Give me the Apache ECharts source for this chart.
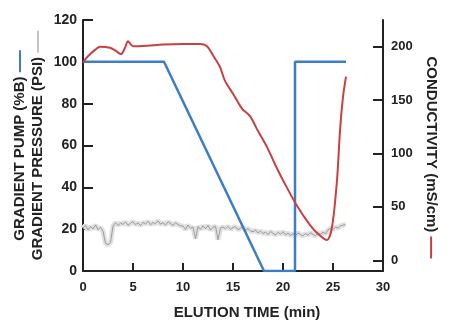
<!DOCTYPE html>
<html>
<head>
<meta charset="utf-8">
<script src="https://cdn.jsdelivr.net/npm/echarts@6/dist/echarts.min.js"></script>
<style>
  html, body { margin: 0; padding: 0; background: #fff; }
  #chart { width: 452px; height: 333px; }
</style>
</head>
<body>
<div id="chart"></div>
<script>
// gradient pump (%B), left axis
const pumpTime = [0, 8.1, 18.1, 21.2, 21.2, 26.3];
const pumpValue = [100, 100, 0, 0, 100, 100];

// conductivity (mS/cm), right axis
const condTime = [0, 0.3, 0.7, 1.2, 1.7, 2.7, 3.3, 3.8, 4.2, 4.5, 5.0, 6.4, 8.0, 10.0, 11.7, 12.4, 13.0, 13.7, 14.2, 15.0, 15.9, 16.7, 17.5, 18.4, 19.2, 20.0, 21.4, 22.7, 23.6, 24.4, 24.9, 25.4, 25.7, 26.0, 26.3];
const condValue = [185, 189, 193, 197, 200, 199, 196, 193, 199, 205, 200.5, 201, 202, 202.5, 202.5, 200.5, 192, 181, 168, 156, 142, 135, 121, 106, 90, 75, 51, 33, 24, 19, 31, 75, 121, 153, 172];

// gradient pressure (PSI), left axis, sampled every 0.25 min from 0
const pressStep = 0.25;
const pressValue = [
  20.5, 21.8, 19.6, 21.2, 20.1, 22.0, 19.8, 20.9,
  19.0, 13.2, 12.6, 13.6,
  21.5, 23.1, 21.8, 22.9, 22.3, 23.4, 21.9, 22.8, 23.6, 22.2, 23.0, 21.7, 23.3, 22.5,
  23.8, 22.1, 23.2, 22.6, 24.0, 22.4, 23.1, 22.0, 23.5, 22.7, 21.9, 23.0, 22.2, 21.6,
  21.5, 19.8, 22.0, 20.4, 21.0, 15.5, 21.3, 19.9, 21.6, 20.2, 21.8, 19.6, 20.9, 21.4, 15.0, 20.6,
  21.0, 20.2, 21.4, 19.9, 20.8, 21.2, 19.7, 20.5, 21.0, 19.6, 20.3, 19.2,
  18.8, 19.6, 18.2, 19.1, 17.9, 18.6, 17.4, 18.9, 18.0, 17.2, 18.5, 17.6, 18.8, 17.3, 18.1, 17.0,
  17.8, 16.9, 18.2, 17.4, 16.8, 17.9, 17.1, 18.3, 17.5, 16.9, 18.0, 17.6,
  18.5, 17.8, 19.6, 20.4, 19.8, 21.0, 20.5, 21.6, 21.9, 22.4
];

const leftTicks = { min: 0, max: 120, interval: 20 };
const rightTicks = [0, 50, 100, 150, 200];
const xTicks = { min: 0, max: 30, interval: 5 };

const pumpData = pumpTime.map((t, i) => [t, pumpValue[i]]);
const condData = condTime.map((t, i) => [t, condValue[i]]);
const pressData = pressValue.map((v, i) => [i * pressStep, v]);

const font = "Liberation Sans";
const ink = "#222";

const chart = echarts.init(document.getElementById("chart"));

const option = {
    animation: false,
    grid: { left: 83, right: 69, top: 20, bottom: 62 },
    xAxis: {
        type: "value",
        min: xTicks.min,
        max: xTicks.max,
        interval: xTicks.interval,
        name: "ELUTION TIME (min)",
        nameLocation: "middle",
        nameGap: 34,
        nameTextStyle: { fontFamily: font, fontWeight: "bold", fontSize: 15, color: ink, padding: [0, 0, 0, 28] },
        axisLine: { lineStyle: { color: ink, width: 2 } },
        axisTick: { inside: true, length: 8, lineStyle: { color: ink, width: 2 } },
        axisLabel: { fontFamily: font, fontWeight: "bold", fontSize: 13, color: ink, margin: 10 },
        splitLine: { show: false }
    },
    yAxis: [
        {
            type: "value",
            min: leftTicks.min,
            max: leftTicks.max,
            interval: leftTicks.interval,
            position: "left",
            name: "GRADIENT PUMP (%B) {blue|}\nGRADIENT PRESSURE (PSI) {gray|}",
            nameLocation: "middle",
            nameRotate: 90,
            nameGap: 36,
            nameMoveOverlap: false,
            nameTextStyle: {
                fontFamily: font, fontWeight: "bold", fontSize: 15, color: ink, lineHeight: 18,
                rich: {
                    blue: { width: 22, height: 2, backgroundColor: "#3d7cc9" },
                    gray: { width: 22, height: 2, backgroundColor: "#c4c4c4" }
                }
            },
            axisLine: { show: true, lineStyle: { color: ink, width: 2 } },
            axisTick: { inside: true, length: 10, lineStyle: { color: ink, width: 2 } },
            axisLabel: { fontFamily: font, fontWeight: "bold", fontSize: 14, color: ink, margin: 6 },
            splitLine: { show: false }
        },
        {
            type: "value",
            min: -10,
            max: 225,
            position: "right",
            name: "CONDUCTIVITY (mS/cm) {red|}",
            nameLocation: "middle",
            nameRotate: -90,
            nameGap: 38,
            nameTextStyle: {
                fontFamily: font, fontWeight: "bold", fontSize: 15, color: ink, padding: [0, 0, 0, 24],
                rich: { red: { width: 22, height: 2, backgroundColor: "#c8403f" } }
            },
            axisLine: { show: true, lineStyle: { color: ink, width: 2 } },
            axisTick: { inside: true, length: 10, customValues: rightTicks, lineStyle: { color: ink, width: 2 } },
            axisLabel: { fontFamily: font, fontWeight: "bold", fontSize: 13, color: ink, margin: 8, customValues: rightTicks },
            splitLine: { show: false }
        }
    ],
    series: [
        {
            name: "pressure band",
            type: "line",
            data: pressData,
            yAxisIndex: 0,
            symbol: "none",
            lineStyle: { color: "#e0e0e0", width: 5 },
            z: 1
        },
        {
            name: "pressure",
            type: "line",
            data: pressData,
            yAxisIndex: 0,
            symbol: "none",
            lineStyle: { color: "#9e9e9e", width: 1 },
            z: 2
        },
        {
            name: "pump",
            type: "line",
            data: pumpData,
            yAxisIndex: 0,
            symbol: "none",
            lineStyle: { color: "#3d7cc9", width: 2.5 },
            z: 3
        },
        {
            name: "conductivity",
            type: "line",
            data: condData,
            yAxisIndex: 1,
            symbol: "none",
            smooth: 0.3,
            lineStyle: { color: "#c8403f", width: 2 },
            z: 4
        }
    ]
};

chart.setOption(option);
</script>
</body>
</html>
